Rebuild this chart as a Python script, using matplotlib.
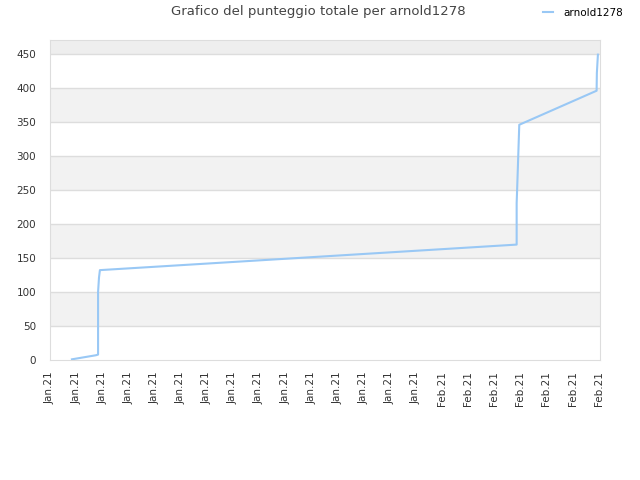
import matplotlib
matplotlib.use("Agg")
import matplotlib.pyplot as plt
import numpy as np

# x positions in tick units (0 = first tick, 21 = last tick)
pos_x = [0.84, 1.76, 1.84, 1.84, 1.875, 1.91, 17.86, 17.86, 17.90, 17.96, 20.92, 20.93, 20.97]
score = [1, 7, 8, 100, 121, 132, 169.5, 230, 275, 345.5, 395.5, 421.5, 448.5]

tick_labels = ["Jan.21"] * 15 + ["Feb.21"] * 7
y_ticks = [0, 50, 100, 150, 200, 250, 300, 350, 400, 450]

fig = plt.figure(figsize=(6.4, 4.8), dpi=100)
ax = fig.add_axes([50 / 640, 1 - 360 / 480, 550 / 640, 320 / 480])

ymax = 470
# alternating bands
for i in range(len(y_ticks) - 1):
    if i % 2 == 1:
        ax.axhspan(y_ticks[i], y_ticks[i + 1], facecolor="#f2f2f2", zorder=0)
ax.axhspan(450, ymax, facecolor="#eeeeee", zorder=0)
for t in y_ticks[1:]:
    ax.axhline(t, color="#dddddd", linewidth=1, zorder=1)

ax.plot(pos_x, score, color="#99c8f5", linewidth=1.5, label="arnold1278", zorder=3)

ax.set_xlim(0, 21.05)
ax.set_ylim(0, ymax)
ax.set_yticks(y_ticks)
ax.set_xticks(np.arange(len(tick_labels)))
ax.set_xticklabels(tick_labels, rotation=90, fontsize=7.5, color="#333333")
ax.tick_params(axis="y", labelsize=7.5, colors="#333333", length=0, pad=10)
ax.tick_params(axis="x", length=0, pad=8)
for s in ax.spines.values():
    s.set_color("#dddddd")

fig.text(318 / 640, 1 - 12 / 480, "Grafico del punteggio totale per arnold1278",
         ha="center", va="center", fontsize=9.5, color="#444444")
ax.legend(loc="center", bbox_to_anchor=(583 / 640, 1 - 13 / 480), bbox_transform=fig.transFigure,
          frameon=False, fontsize=7.5, handlelength=1.0, handletextpad=1.0)

fig.savefig("out.png", dpi=100)
